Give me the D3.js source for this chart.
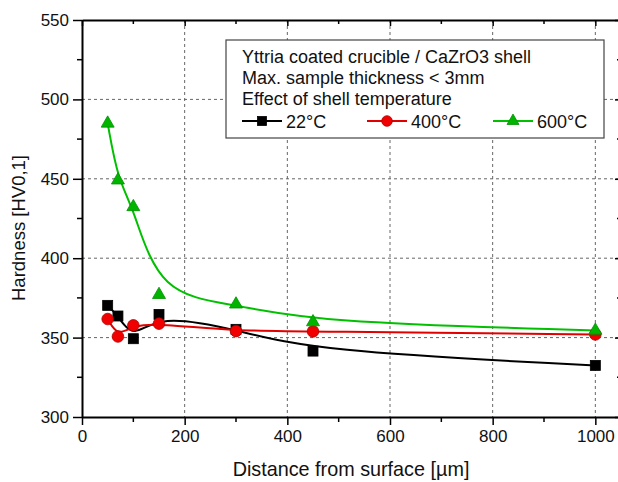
<!DOCTYPE html>
<html>
<head>
<meta charset="utf-8">
<script src="https://cdn.jsdelivr.net/npm/d3@7"></script>
<style>
  body { margin: 0; background: #fff; }
  svg { display: block; font-family: Arial, "Liberation Sans", sans-serif; }
  .tick text { font-size: 17px; fill: #111; }
</style>
</head>
<body>
<div id="chart"></div>
<script>
(function() {
  'use strict';

  var W = 618, H = 482;

  // Distance from surface [µm]
  var distance = [50, 70, 100, 150, 300, 450, 1000];
  // Hardness per shell temperature
  var hard22 = [370.3, 363.6, 349.3, 364.6, 355.2, 341.5, 332.5];
  var hard400 = [361.7, 350.7, 357.7, 358.8, 354.1, 353.9, 352];
  var hard600 = [484.9, 449.1, 432.3, 377, 371, 359.8, 354.5];

  var xTicks = [0, 200, 400, 600, 800, 1000];
  var yTicks = [300, 350, 400, 450, 500, 550];
  var legendLines = ['Yttria coated crucible / CaZrO3 shell', 'Max. sample thickness < 3mm', 'Effect of shell temperature'];

  var series = [
    { name: '22°C', values: hard22, color: '#000', fill: '#000', stroke: '#000', marker: 'square' },
    { name: '400°C', values: hard400, color: '#e00000', fill: '#f00000', stroke: '#b00000', marker: 'circle' },
    { name: '600°C', values: hard600, color: '#00c000', fill: '#00b400', stroke: '#009000', marker: 'triangle' }
  ];

  var left = 82, right = 621, top = 20, bottom = 417;

  var x = d3.scaleLinear().domain([0, 1050]).range([left, right]);
  var y = d3.scaleLinear().domain([300, 550]).range([bottom, top]);

  var svg = d3.select('#chart').append('svg')
    .attr('width', W)
    .attr('height', H);

  // Grid
  var grid = svg.append('g').attr('class', 'grid');
  grid.selectAll('.vg').data(xTicks.filter(function(d) { return d > 0; }))
    .enter().append('line')
    .attr('x1', function(d) { return x(d); }).attr('x2', function(d) { return x(d); })
    .attr('y1', top).attr('y2', bottom)
    .attr('stroke', '#666').attr('stroke-width', 1).attr('stroke-dasharray', '3,3');
  grid.selectAll('.hg').data(yTicks.filter(function(d) { return d > 300 && d < 550; }))
    .enter().append('line')
    .attr('x1', left).attr('x2', right)
    .attr('y1', function(d) { return y(d); }).attr('y2', function(d) { return y(d); })
    .attr('stroke', '#666').attr('stroke-width', 1).attr('stroke-dasharray', '3,3');

  // Minor ticks
  var xMinor = d3.range(100, 1050, 200);
  var yMinor = d3.range(325, 550, 50);

  // Axes
  var bottomAxis = svg.append('g')
    .attr('transform', 'translate(0,' + bottom + ')')
    .call(d3.axisBottom(x).tickValues(xTicks).tickFormat(d3.format('d'))
      .tickSize(8).tickPadding(5).tickSizeOuter(0));
  bottomAxis.append('g').selectAll('line').data(xMinor).enter().append('line')
    .attr('x1', function(d) { return x(d); }).attr('x2', function(d) { return x(d); })
    .attr('y1', 0).attr('y2', 5).attr('stroke', '#000').attr('stroke-width', 1.5);

  var leftAxis = svg.append('g')
    .attr('transform', 'translate(' + left + ',0)')
    .call(d3.axisLeft(y).tickValues(yTicks).tickSize(9).tickPadding(4).tickSizeOuter(0));
  leftAxis.append('g').selectAll('line').data(yMinor).enter().append('line')
    .attr('y1', function(d) { return y(d); }).attr('y2', function(d) { return y(d); })
    .attr('x1', 0).attr('x2', -5).attr('stroke', '#000').attr('stroke-width', 1.5);

  var topAxis = svg.append('g')
    .attr('transform', 'translate(0,' + top + ')')
    .call(d3.axisTop(x).tickValues(xTicks).tickSize(-6).tickFormat('').tickSizeOuter(0));
  topAxis.append('g').selectAll('line').data(xMinor).enter().append('line')
    .attr('x1', function(d) { return x(d); }).attr('x2', function(d) { return x(d); })
    .attr('y1', 0).attr('y2', 4).attr('stroke', '#000').attr('stroke-width', 1.5);

  var rightAxis = svg.append('g')
    .attr('transform', 'translate(' + right + ',0)')
    .call(d3.axisRight(y).tickValues(yTicks).tickSize(-6).tickFormat('').tickSizeOuter(0));
  rightAxis.append('g').selectAll('line').data(yMinor).enter().append('line')
    .attr('y1', function(d) { return y(d); }).attr('y2', function(d) { return y(d); })
    .attr('x1', 0).attr('x2', -4).attr('stroke', '#000').attr('stroke-width', 1.5);

  svg.selectAll('.domain').attr('stroke', '#000').attr('stroke-width', 2);
  svg.selectAll('.tick line').attr('stroke', '#000').attr('stroke-width', 1.5);

  // Axis titles
  svg.append('text')
    .attr('x', 351).attr('y', 476)
    .attr('text-anchor', 'middle')
    .attr('font-size', '19.8px').attr('fill', '#111')
    .text('Distance from surface [µm]');
  svg.append('text')
    .attr('transform', 'translate(25,' + 228 + ') rotate(-90)')
    .attr('text-anchor', 'middle')
    .attr('font-size', '18.5px').attr('fill', '#111')
    .text('Hardness [HV0,1]');

  // Markers
  function drawMarker(sel, type, size) {
    if (type === 'square') {
      sel.append('rect')
        .attr('x', -size / 2).attr('y', -size / 2)
        .attr('width', size).attr('height', size);
    } else if (type === 'circle') {
      sel.append('circle').attr('r', size / 2 + 0.8);
    } else {
      var s = size + 3, h = s * Math.sqrt(3) / 2;
      sel.append('path')
        .attr('d', 'M0,' + (-h * 2 / 3) + 'L' + (s / 2) + ',' + (h / 3) + 'L' + (-s / 2) + ',' + (h / 3) + 'Z');
    }
  }

  var line = d3.line()
    .x(function(d) { return x(d[0]); })
    .y(function(d) { return y(d[1]); })
    .curve(d3.curveBasis);

  var plot = svg.append('g');
  series.forEach(function(s) {
    var pts = distance.map(function(d, i) { return [d, s.values[i]]; });
    plot.append('path')
      .datum(pts)
      .attr('d', line)
      .attr('fill', 'none')
      .attr('stroke', s.color)
      .attr('stroke-width', 2);
  });
  series.forEach(function(s) {
    var pts = distance.map(function(d, i) { return [d, s.values[i]]; });
    plot.selectAll(null).data(pts).enter().append('g')
      .attr('transform', function(d) { return 'translate(' + x(d[0]) + ',' + y(d[1]) + ')'; })
      .attr('fill', s.fill).attr('stroke', s.stroke).attr('stroke-width', 0.8)
      .each(function() { drawMarker(d3.select(this), s.marker, 10); });
  });

  // Legend
  var lg = svg.append('g').attr('transform', 'translate(226,40)');
  lg.append('rect')
    .attr('width', 378).attr('height', 98)
    .attr('fill', '#fff').attr('stroke', '#444').attr('stroke-width', 1.2);
  lg.selectAll('.lt').data(legendLines).enter().append('text')
    .attr('x', 16).attr('y', function(d, i) { return 23 + i * 21; })
    .attr('font-size', '18px').attr('fill', '#111')
    .text(function(d) { return d; });

  var legendX = [16, 141, 267];
  series.forEach(function(s, i) {
    var item = lg.append('g').attr('transform', 'translate(' + legendX[i] + ',81)');
    item.append('line')
      .attr('x1', 0).attr('x2', 40).attr('y1', 0).attr('y2', 0)
      .attr('stroke', s.color).attr('stroke-width', 2);
    var m = item.append('g')
      .attr('transform', 'translate(20,0)')
      .attr('fill', s.fill).attr('stroke', s.stroke).attr('stroke-width', 0.8);
    drawMarker(m, s.marker, 9);
    item.append('text')
      .attr('x', 44).attr('y', 7)
      .attr('font-size', '18px').attr('fill', '#111')
      .text(s.name);
  });
})();
</script>
</body>
</html>
